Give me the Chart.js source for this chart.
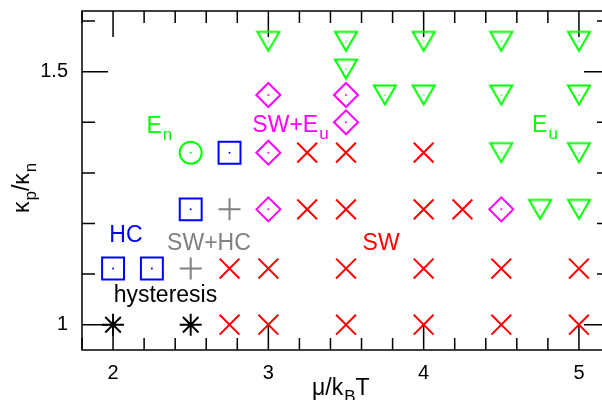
<!DOCTYPE html>
<html>
<head>
<meta charset="utf-8">
<script src="https://cdn.jsdelivr.net/npm/chart.js@4.4.0/dist/chart.umd.min.js"></script>
<style>
  html, body { margin: 0; padding: 0; overflow: hidden; background: #fff; }
  #wrap { width: 640px; height: 400px; }
</style>
</head>
<body>
<div id="wrap"><canvas id="chart1" width="640" height="400"></canvas></div>
<script>
// phase points: x = mu/kBT, y = kappa_p/kappa_n
const hyst_x = [2, 2.5];
const hyst_y = [1, 1];
const hc_x = [2, 2.25, 2.5, 2.75];
const hc_y = [1.111, 1.111, 1.228, 1.34];
const swhc_x = [2.5, 2.75];
const swhc_y = [1.111, 1.228];
const en_x = [2.5];
const en_y = [1.34];
const sw_x = [2.75, 3, 3.5, 4, 4.5, 5, 2.75, 3, 3.5, 4, 4.5, 5, 3.25, 3.5, 4, 4.25, 3.25, 3.5, 4];
const sw_y = [1, 1, 1, 1, 1, 1, 1.111, 1.111, 1.111, 1.111, 1.111, 1.111, 1.228, 1.228, 1.228, 1.228, 1.34, 1.34, 1.34];
const sweu_x = [3, 4.5, 3, 3.5, 3, 3.5];
const sweu_y = [1.228, 1.228, 1.34, 1.4, 1.454, 1.454];
const eu_x = [4.75, 5, 4.5, 5, 3.75, 4, 4.5, 5, 3.5, 3, 3.5, 4, 4.5, 5];
const eu_y = [1.228, 1.228, 1.34, 1.34, 1.454, 1.454, 1.454, 1.454, 1.505, 1.56, 1.56, 1.56, 1.56, 1.56];

const x_ticks = [2, 3, 4, 5];
const y_ticks = [1, 1.5];

// region labels, left/baseline in data coords
const region_labels = [
    {text: [['E'], ['n', 1]], x: 2.215, y: 1.379, color: '#00ff00'},
    {text: [['SW+E'], ['u', 1]], x: 2.897, y: 1.381, color: '#ff00ff'},
    {text: [['E'], ['u', 1]], x: 4.698, y: 1.381, color: '#00ff00'},
    {text: [['HC']], x: 1.976, y: 1.163, color: '#0000ff'},
    {text: [['SW+HC']], x: 2.348, y: 1.148, color: '#808080'},
    {text: [['hysteresis']], x: 2.004, y: 1.045, color: '#000000'},
    {text: [['SW']], x: 3.607, y: 1.148, color: '#ff0000'}
];

function tri_down(color){
    let c = document.createElement('canvas');
    c.width = 26; c.height = 24;
    let g = c.getContext('2d');
    g.strokeStyle = color; g.lineWidth = 2;
    g.beginPath();
    g.moveTo(2, 2.5); g.lineTo(24, 2.5); g.lineTo(13, 21.5); g.closePath();
    g.stroke();
    g.fillStyle = color;
    g.fillRect(12.4, 11.4, 1.3, 1.3);
    return c;
}

const series = [
    {x: sw_x, y: sw_y, color: '#ff0000', style: 'crossRot', r: 14},
    {x: hyst_x, y: hyst_y, color: '#000000', style: 'star', r: 11},
    {x: hc_x, y: hc_y, color: '#0000ff', style: 'rect', r: 15.5, dot: true},
    {x: swhc_x, y: swhc_y, color: '#808080', style: 'cross', r: 11},
    {x: en_x, y: en_y, color: '#00ff00', style: 'circle', r: 11, dot: true},
    {x: sweu_x, y: sweu_y, color: '#ff00ff', style: 'rectRot', r: 12, dot: true},
    {x: eu_x, y: eu_y, color: '#00ff00', style: tri_down('#00ff00'), r: 12}
];

let datasets = [];
for (let i = 0; i < series.length; i++) {
    let s = series[i];
    let pts = s.x.map((v, j) => ({x: v, y: s.y[j]}));
    datasets.push({
        data: pts,
        pointStyle: s.style,
        pointRadius: s.r,
        borderColor: s.color,
        backgroundColor: 'rgba(0,0,0,0)',
        pointBorderWidth: 2
    });
    if (s.dot) {
        datasets.push({
            data: pts,
            pointStyle: 'circle',
            pointRadius: 1,
            borderWidth: 0,
            pointBorderWidth: 0,
            backgroundColor: s.color
        });
    }
}

function draw_parts(ctx, parts, x, y, color){
    ctx.fillStyle = color;
    ctx.textAlign = 'left';
    ctx.textBaseline = 'alphabetic';
    let cx = x;
    for (let p of parts) {
        if (p[1]) {
            ctx.font = '17px "Liberation Sans"';
            ctx.fillText(p[0], cx + 1, y + 7);
            cx += ctx.measureText(p[0]).width + 1;
        } else {
            ctx.font = '23px "Liberation Sans"';
            ctx.fillText(p[0], cx, y);
            cx += ctx.measureText(p[0]).width;
        }
    }
}

const frame_plugin = {
    id: 'frame',
    beforeDatasetsDraw(chart) {
        const ctx = chart.ctx, a = chart.chartArea;
        const xs = chart.scales.x, ys = chart.scales.y;
        ctx.save();
        ctx.strokeStyle = '#000';
        ctx.lineWidth = 1.5;
        ctx.beginPath();
        for (let i = 9; i <= 26; i++) {
            let px = xs.getPixelForValue(i / 5);
            let len = (i % 5 == 0) ? 26 : 12;
            ctx.moveTo(px, a.bottom); ctx.lineTo(px, a.bottom - len);
            ctx.moveTo(px, a.top); ctx.lineTo(px, a.top + len);
        }
        for (let i = 10; i <= 16; i++) {
            let py = ys.getPixelForValue(i / 10);
            let len = (i % 5 == 0) ? 26 : 13;
            ctx.moveTo(a.left, py); ctx.lineTo(a.left + len, py);
            ctx.moveTo(a.right, py); ctx.lineTo(a.right - len, py);
        }
        ctx.stroke();
        ctx.strokeRect(a.left, a.top, a.right - a.left, a.bottom - a.top);
        ctx.restore();
    },
    afterDatasetsDraw(chart) {
        const ctx = chart.ctx;
        const xs = chart.scales.x, ys = chart.scales.y;
        ctx.save();
        for (let l of region_labels) {
            draw_parts(ctx, l.text, xs.getPixelForValue(l.x), ys.getPixelForValue(l.y), l.color);
        }
        // axis titles
        draw_parts(ctx, [['\u03bc/k'], ['B', 1], ['T']], 312, 395, '#000');
        ctx.translate(29, 213);
        ctx.rotate(-Math.PI / 2);
        draw_parts(ctx, [['\u03ba'], ['p', 1], ['/\u03ba'], ['n', 1]], 0, 0, '#000');
        ctx.restore();
    }
};

const chart1_cfg = {
    type: 'scatter',
    data: {datasets: datasets},
    options: {
        responsive: false,
        animation: false,
        devicePixelRatio: 1,
        layout: {autoPadding: false, padding: {top: 11, right: 30, left: 0, bottom: 0}},
        plugins: {
            legend: {display: false},
            tooltip: {enabled: false}
        },
        scales: {
            x: {
                type: 'linear',
                min: 1.8,
                max: 5.2,
                grid: {display: false, drawTicks: false},
                border: {display: false},
                afterBuildTicks: (s) => { s.ticks = x_ticks.map(v => ({value: v})); },
                afterFit: (s) => { s.height = 50; s.paddingLeft = 0; s.paddingRight = 0; },
                ticks: {
                    color: '#000',
                    padding: 11,
                    font: {family: 'Liberation Sans', size: 20}
                }
            },
            y: {
                type: 'linear',
                min: 0.95,
                max: 1.62,
                grid: {display: false, drawTicks: false},
                border: {display: false},
                afterBuildTicks: (s) => { s.ticks = y_ticks.map(v => ({value: v})); },
                afterFit: (s) => { s.width = 82; s.paddingTop = 0; s.paddingBottom = 0; },
                ticks: {
                    color: '#000',
                    padding: 14,
                    font: {family: 'Liberation Sans', size: 20},
                    callback: (v) => String(v)
                }
            }
        }
    },
    plugins: [frame_plugin]
};

const chart1_ctx = document.getElementById('chart1').getContext('2d');
let chart1 = new Chart(chart1_ctx, chart1_cfg);
</script>
</body>
</html>
